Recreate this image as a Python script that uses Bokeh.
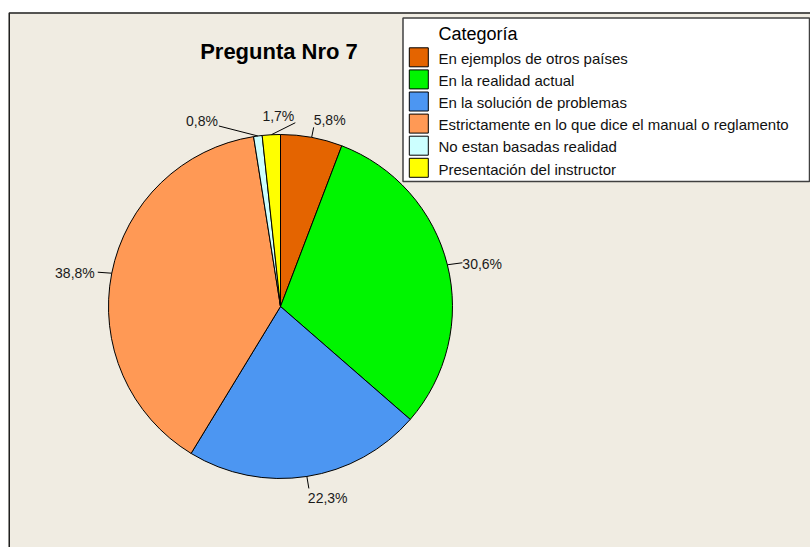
import math
from bokeh.plotting import figure
from bokeh.models import Range1d
from bokeh.embed import file_html
from bokeh.resources import INLINE
from bokeh.core.properties import value

# ---------------- data ----------------
chart_title = "Pregunta Nro 7"
legend_title = "Categoría"
categories = [
    "En ejemplos de otros países",
    "En la realidad actual",
    "En la solución de problemas",
    "Estrictamente en lo que dice el manual o reglamento",
    "No estan basadas realidad",
    "Presentación del instructor",
]
percentages = [5.8, 30.6, 22.3, 38.8, 0.8, 1.7]
colors = ["#E46400", "#00F500", "#4C96F2", "#FF9955", "#CCFFFF", "#FFFF00"]

# ---------------- layout / style ----------------
W, H = 810, 547
BEIGE = "#F0ECE2"
FONT = value("Liberation Sans")

def fx(X):  # reference pixel -> figure coordinate
    return X

def fy(Y):
    return H - Y

cx, cy, R = fx(280), fy(306), 172

# leader end offsets (screen px, y down) from the slice edge point
leader_offsets = [(2, -10), (15, -2), (2, 12), (-14, -1), (-39, -10), (24, -12)]
# text placement: (align, baseline, dx, dy) relative to leader end
text_place = [
    ("left", "middle", 0, -7),
    ("left", "middle", 0, 1),
    ("left", "top", -1, 2),
    ("right", "middle", -3, 1),
    ("right", "middle", -1, -5),
    ("right", "middle", -1, -6.5),
]

p = figure(width=W, height=H, x_range=Range1d(0, W), y_range=Range1d(0, H),
           output_backend="svg", toolbar_location=None, min_border=0,
           x_axis_location=None, y_axis_location=None)
p.grid.visible = False
p.outline_line_color = None
p.background_fill_color = "white"
p.border_fill_color = "white"

# panel background and border
p.quad(left=fx(8), right=W + 10, bottom=-10, top=fy(12), fill_color=BEIGE, line_color=None)
p.line([fx(8.75), fx(8.75), W + 10], [-10, fy(12.5), fy(12.5)], line_color="#202020", line_width=1.5)

# title
p.text(x=[fx(278.5)], y=[fy(51.3)], text=[chart_title], text_font=FONT,
       text_font_style="bold", text_font_size="22px", text_align="center",
       text_baseline="middle", text_color="black")

# pie
total = sum(percentages)
starts, ends, mids = [], [], []
cum = 0.0
for v in percentages:
    f0 = cum / total
    cum += v
    f1 = cum / total
    starts.append(math.pi / 2 - 2 * math.pi * f0)
    ends.append(math.pi / 2 - 2 * math.pi * f1)
    mids.append(2 * math.pi * (f0 + f1) / 2)

p.wedge(x=cx, y=cy, radius=R, start_angle=starts, end_angle=ends, direction="clock",
        fill_color=colors, line_color="black", line_width=1)

# labels with leader lines
for v, th, (odx, ody), (al, bl, tdx, tdy) in zip(percentages, mids, leader_offsets, text_place):
    ex = cx + R * math.sin(th)
    ey = cy + R * math.cos(th)
    lx = ex + odx
    ly = ey - ody
    p.line([ex, lx], [ey, ly], line_color="black", line_width=1)
    lab = f"{v:.1f}".replace(".", ",") + "%"
    p.text(x=[lx + tdx], y=[ly - tdy], text=[lab], text_font=FONT, text_font_size="14px",
           text_align=al, text_baseline=bl, text_color="#1a1a1a")

# legend
p.quad(left=fx(402.5), right=fx(809), top=fy(17.5), bottom=fy(181), fill_color="white",
       line_color="#404040", line_width=1.5)
p.text(x=[fx(438)], y=[fy(33.7)], text=[legend_title], text_font=FONT, text_font_size="18px",
       text_align="left", text_baseline="middle", text_color="black")
for i, (cat, col) in enumerate(zip(categories, colors)):
    base = 64 + i * 22.1
    p.rect(x=fx(418.3), y=fy(base - 7.2), width=19, height=19, fill_color=col,
           line_color="black", line_width=1)
    p.text(x=[fx(438)], y=[fy(base - 6.0)], text=[cat], text_font=FONT, text_font_size="15px",
           text_align="left", text_baseline="middle", text_color="#111111")

open("out.html", "w").write(file_html(p, INLINE))
